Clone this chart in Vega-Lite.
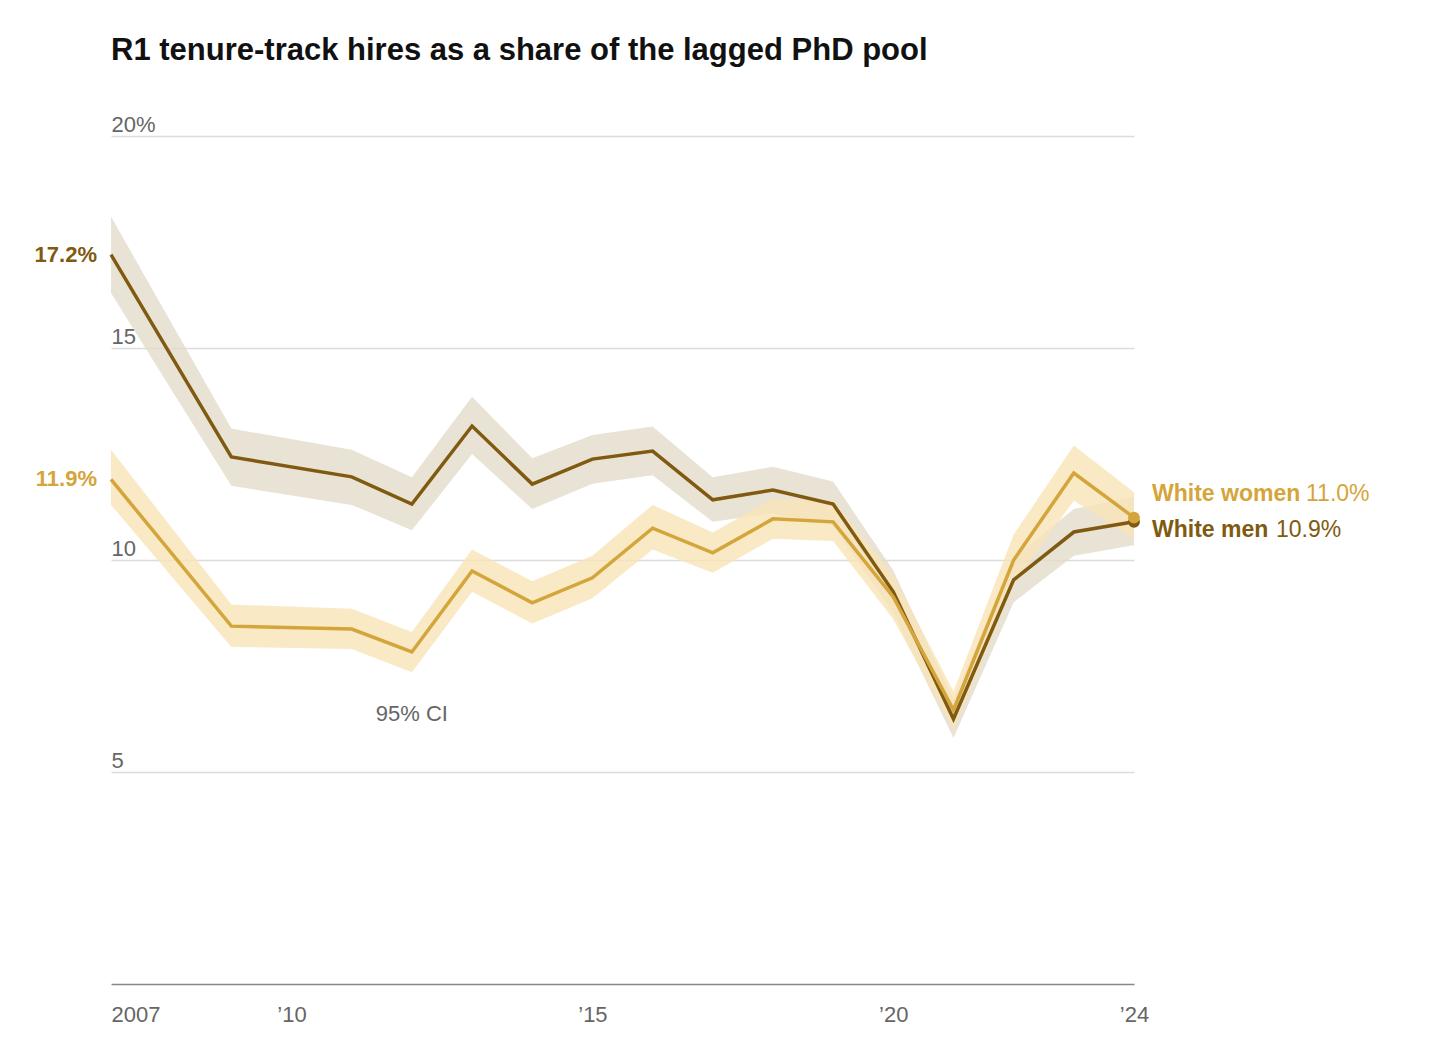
{
  "$schema": "https://vega.github.io/schema/vega-lite/v6.json",
  "autosize": "none",
  "width": 1023,
  "height": 848,
  "padding": {"left": 111, "top": 136, "right": 322, "bottom": 65},
  "background": "white",
  "config": {"font": "Liberation Sans", "view": {"stroke": null}},
  "title": {
    "text": "R1 tenure-track hires as a share of the lagged PhD pool",
    "anchor": "start", "frame": "group", "offset": 46,
    "fontSize": 31, "fontWeight": "bold", "color": "#111"
  },
  "data": {"values": [
    {"s": "White men", "year": 2007, "v": 17.2, "lo": 16.3, "hi": 18.1},
    {"s": "White men", "year": 2009, "v": 12.43, "lo": 11.75, "hi": 13.1},
    {"s": "White men", "year": 2011, "v": 11.96, "lo": 11.3, "hi": 12.6},
    {"s": "White men", "year": 2012, "v": 11.32, "lo": 10.7, "hi": 11.95},
    {"s": "White men", "year": 2013, "v": 13.16, "lo": 12.5, "hi": 13.85},
    {"s": "White men", "year": 2014, "v": 11.79, "lo": 11.2, "hi": 12.4},
    {"s": "White men", "year": 2015, "v": 12.38, "lo": 11.8, "hi": 12.95},
    {"s": "White men", "year": 2016, "v": 12.57, "lo": 12.0, "hi": 13.15},
    {"s": "White men", "year": 2017, "v": 11.42, "lo": 10.9, "hi": 11.95},
    {"s": "White men", "year": 2018, "v": 11.65, "lo": 11.1, "hi": 12.2},
    {"s": "White men", "year": 2019, "v": 11.32, "lo": 10.8, "hi": 11.85},
    {"s": "White men", "year": 2020, "v": 9.25, "lo": 8.75, "hi": 9.75},
    {"s": "White men", "year": 2021, "v": 6.25, "lo": 5.8, "hi": 6.7},
    {"s": "White men", "year": 2022, "v": 9.53, "lo": 9.0, "hi": 10.05},
    {"s": "White men", "year": 2023, "v": 10.66, "lo": 10.1, "hi": 11.2},
    {"s": "White men", "year": 2024, "v": 10.9, "lo": 10.35, "hi": 11.5},
    {"s": "White women", "year": 2007, "v": 11.9, "lo": 11.3, "hi": 12.6},
    {"s": "White women", "year": 2009, "v": 8.44, "lo": 7.95, "hi": 8.95},
    {"s": "White women", "year": 2011, "v": 8.37, "lo": 7.9, "hi": 8.85},
    {"s": "White women", "year": 2012, "v": 7.83, "lo": 7.35, "hi": 8.3},
    {"s": "White women", "year": 2013, "v": 9.74, "lo": 9.25, "hi": 10.25},
    {"s": "White women", "year": 2014, "v": 8.99, "lo": 8.5, "hi": 9.5},
    {"s": "White women", "year": 2015, "v": 9.58, "lo": 9.1, "hi": 10.1},
    {"s": "White women", "year": 2016, "v": 10.75, "lo": 10.25, "hi": 11.3},
    {"s": "White women", "year": 2017, "v": 10.17, "lo": 9.7, "hi": 10.65},
    {"s": "White women", "year": 2018, "v": 10.97, "lo": 10.5, "hi": 11.45},
    {"s": "White women", "year": 2019, "v": 10.9, "lo": 10.45, "hi": 11.4},
    {"s": "White women", "year": 2020, "v": 9.13, "lo": 8.6, "hi": 9.65},
    {"s": "White women", "year": 2021, "v": 6.46, "lo": 6.0, "hi": 6.9},
    {"s": "White women", "year": 2022, "v": 10.0, "lo": 9.45, "hi": 10.6},
    {"s": "White women", "year": 2023, "v": 12.05, "lo": 11.4, "hi": 12.7},
    {"s": "White women", "year": 2024, "v": 11.0, "lo": 10.5, "hi": 11.6}
  ]},
  "encoding": {
    "x": {"field": "year", "type": "quantitative", "scale": {"domain": [2007, 2024], "nice": false, "zero": false},
      "axis": {"title": null, "values": [2007, 2010, 2015, 2020, 2024], "grid": false, "ticks": false,
        "domainColor": "#888", "domainWidth": 1.5, "labelPadding": 20, "labelFontSize": 22, "labelColor": "#666",
        "labelAlign": {"expr": "datum.value == 2007 ? 'left' : 'center'"},
        "labelExpr": "datum.value == 2007 ? '2007' : '\u2019' + substring(toString(datum.value), 2, 4)"}},
    "y": {"field": "v", "type": "quantitative", "scale": {"domain": [0, 20], "nice": false},
      "axis": {"title": null, "values": [5, 10, 15, 20], "domain": false, "ticks": false, "gridColor": "#dcdcdc", "gridWidth": 1.3,
        "labelAlign": "left", "labelBaseline": "bottom", "labelPadding": 0, "labelDy": -9, "labelFontSize": 22, "labelColor": "#666",
        "labelExpr": "datum.value == 20 ? '20%' : datum.label"}}
  },
  "layer": [
    {"mark": {"type": "area", "opacity": 0.8},
      "encoding": {"y": {"field": "lo", "type": "quantitative"}, "y2": {"field": "hi"},
        "detail": {"field": "s"},
        "color": {"condition": {"test": "datum.s == 'White men'", "value": "#e4dccb"}, "value": "#f8e4b6"}}},
    {"mark": {"type": "line", "strokeWidth": 3.5},
      "encoding": {"detail": {"field": "s"}, "order": {"field": "year"},
        "color": {"condition": {"test": "datum.s == 'White men'", "value": "#7f5a10"}, "value": "#d4a53a"}}},
    {"transform": [{"filter": "datum.year == 2024"}], "mark": {"type": "point", "filled": true, "size": 140, "opacity": 1},
      "encoding": {"color": {"condition": {"test": "datum.s == 'White men'", "value": "#7f5a10"}, "value": "#d4a53a"}}},
    {"transform": [{"filter": "datum.year == 2007"}, {"calculate": "format(datum.v, '.1f') + '%'", "as": "lab"}],
      "mark": {"type": "text", "align": "right", "dx": -14, "fontSize": 22, "fontWeight": "bold"},
      "encoding": {"text": {"field": "lab"},
        "color": {"condition": {"test": "datum.s == 'White men'", "value": "#7f5a10"}, "value": "#d4a53a"}}},
    {"data": {"values": [{"s": "White women", "year": 2024, "y": 11.55, "val": "11.0%"}, {"s": "White men", "year": 2024, "y": 10.7, "val": "10.9%"}]},
      "layer": [
        {"mark": {"type": "text", "align": "left", "dx": 18, "fontSize": 23, "fontWeight": "bold"},
          "encoding": {"y": {"field": "y", "type": "quantitative"}, "text": {"field": "s"},
            "color": {"condition": {"test": "datum.s == 'White men'", "value": "#7f5a10"}, "value": "#d4a53a"}}},
        {"transform": [{"filter": "datum.s == 'White women'"}],
          "mark": {"type": "text", "align": "left", "dx": 172, "fontSize": 23, "color": "#d4a53a"},
          "encoding": {"y": {"field": "y", "type": "quantitative"}, "text": {"field": "val"}}},
        {"transform": [{"filter": "datum.s == 'White men'"}],
          "mark": {"type": "text", "align": "left", "dx": 142, "fontSize": 23, "color": "#7f5a10"},
          "encoding": {"y": {"field": "y", "type": "quantitative"}, "text": {"field": "val"}}}
      ]},
    {"data": {"values": [{"year": 2012, "y": 6.37, "t": "95% CI"}]},
      "mark": {"type": "text", "align": "center", "fontSize": 22, "color": "#666"},
      "encoding": {"y": {"field": "y", "type": "quantitative"}, "text": {"field": "t"}}}
  ]
}
